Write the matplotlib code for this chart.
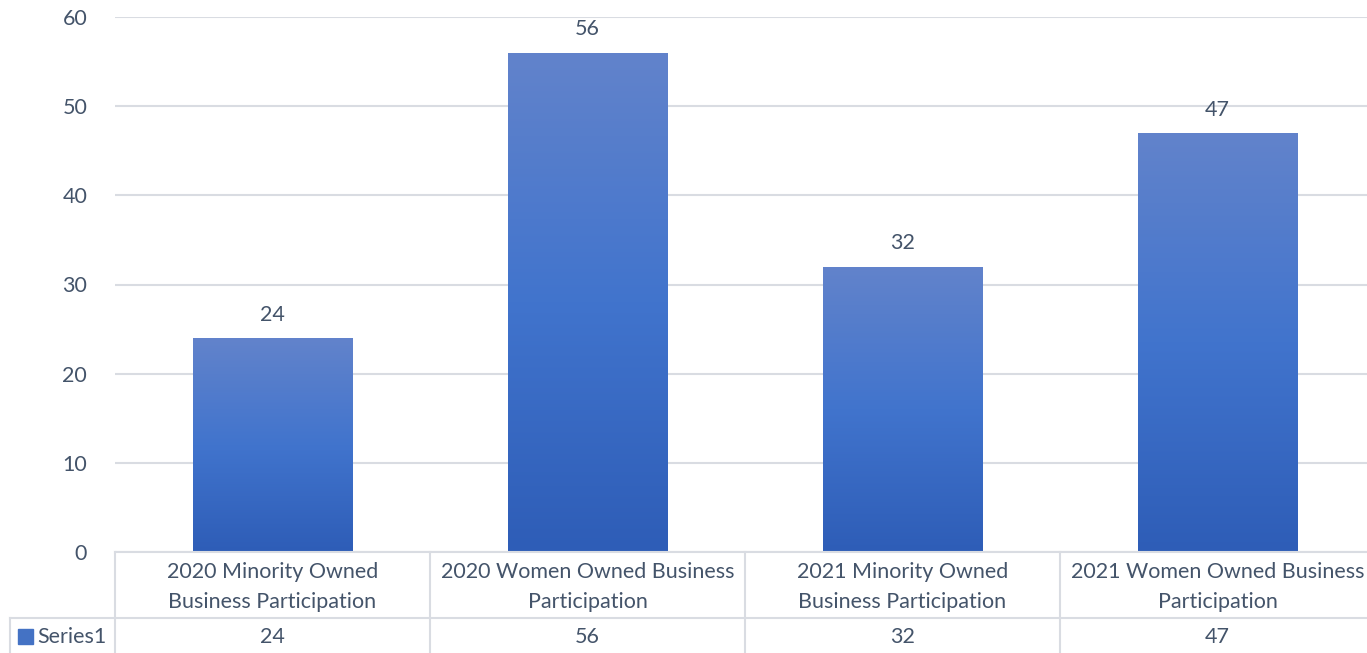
import matplotlib.pyplot as plt
import matplotlib.transforms as mtransforms
from matplotlib.colors import LinearSegmentedColormap
from matplotlib.lines import Line2D
from matplotlib.patches import Rectangle
import numpy as np

categories = ["2020 Minority Owned\nBusiness Participation",
              "2020 Women Owned Business\nParticipation",
              "2021 Minority Owned\nBusiness Participation",
              "2021 Women Owned Business\nParticipation"]
values = [24, 56, 32, 47]
series_name = "Series1"

W, H = 1367, 653
txt = "#44546A"
grid_c = "#D9DCE2"
fs = 15.5

plt.rcParams['font.family'] = ['Lato', 'DejaVu Sans']

fig = plt.figure(figsize=(W / 100, H / 100), dpi=100)
# plot area: x 115..1375 px, y 17..552 px (from top)
left, right, top, bottom = 115, 1375, 17, 552
ax = fig.add_axes([left / W, 1 - bottom / H, (right - left) / W, (bottom - top) / H])
ax.set_xlim(-0.5, 3.5)
ax.set_ylim(0, 60)
for s in ax.spines.values():
    s.set_visible(False)
ax.set_yticks(range(0, 61, 10))
ax.yaxis.grid(True, color=grid_c, lw=1.5)
ax.set_axisbelow(True)
ax.tick_params(axis='y', length=0, pad=20, labelsize=fs, labelcolor=txt)
ax.set_xticks([])

cmap = LinearSegmentedColormap.from_list("g", ["#2E5DB7", "#4174CD", "#6283CB"])
grad = np.linspace(0, 1, 256).reshape(-1, 1)
x = np.arange(len(values))
bars = ax.bar(x, values, width=0.505, color="none", zorder=2)
for b, v in zip(bars, values):
    x0, w = b.get_x(), b.get_width()
    im = ax.imshow(grad, cmap=cmap, aspect='auto', origin='lower',
                   extent=[x0, x0 + w, 0, v], zorder=2)
    im.set_clip_path(b)
    ax.text(b.get_x() + w / 2, v + 1.5, str(v), ha='center', va='bottom',
            fontsize=fs, color=txt)
ax.set_xlim(-0.5, 3.5)
ax.set_ylim(0, 60)

# data table
def fy(py):
    return 1 - py / H

def fx(px):
    return px / W

trans = mtransforms.blended_transform_factory(ax.transData, fig.transFigure)
row_y = 618
lines = [
    ([fx(left), fx(W)], [fy(bottom), fy(bottom)]),
    ([fx(10), fx(W)], [fy(row_y), fy(row_y)]),
    ([fx(10), fx(10)], [fy(row_y), fy(H)]),
    ([fx(left), fx(left)], [fy(bottom), fy(H)]),
]
for xs, ys in lines:
    fig.add_artist(Line2D(xs, ys, color=grid_c, lw=1.5))
for i in range(1, len(values)):
    fig.add_artist(Line2D([i - 0.5, i - 0.5], [fy(bottom), fy(H)], color=grid_c,
                          lw=1.5, transform=trans))

for i, (c, v) in enumerate(zip(categories, values)):
    fig.text(i, fy(587), c, transform=trans, ha='center', va='center',
             fontsize=fs, color=txt, linespacing=1.65)
    fig.text(i, fy(637), str(v), transform=trans, ha='center', va='center',
             fontsize=fs, color=txt)

fig.add_artist(Rectangle((fx(18), fy(644)), fx(15), 15 / H, color="#4472C4",
                         transform=fig.transFigure))
fig.text(fx(37), fy(637), series_name, ha='left', va='center', fontsize=fs, color=txt)

fig.savefig("out.png", dpi=100)
